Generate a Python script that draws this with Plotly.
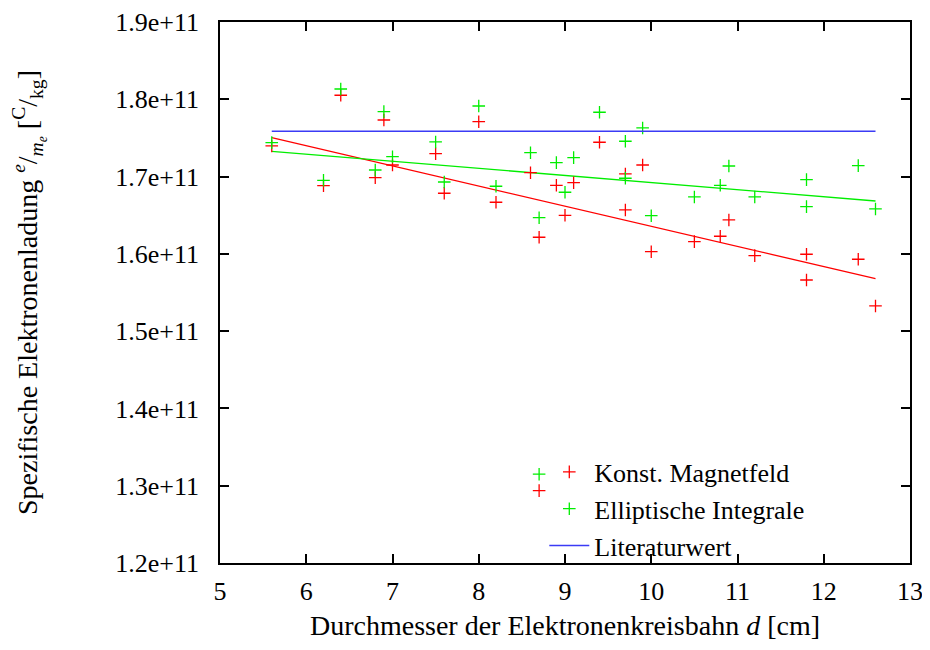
import plotly.graph_objects as go

# Durchmesser d [cm]
d = [5.6, 6.2, 6.4, 6.8, 6.9, 7.0, 7.5, 7.6, 8.0, 8.2, 8.6, 8.7, 8.7, 8.9, 9.0, 9.1,
     9.4, 9.7, 9.7, 9.9, 10.0, 10.5, 10.8, 10.9, 11.2, 11.8, 11.8, 12.4, 12.6]

# Konst. Magnetfeld (red), e/m in 1e11 C/kg
konst = [1.7396, 1.6882, 1.8052, 1.6986, 1.7732, 1.7150, 1.7296, 1.6784, 1.7710, 1.6668,
         1.7050, 1.6215, 1.2937, 1.6887, 1.6499, 1.6921, 1.7444, 1.7034, 1.6568, 1.7150,
         1.6028, 1.6158, 1.6228, 1.6439, 1.5977, 1.5995, 1.5662, 1.5930, 1.5326]

# Elliptische Integrale (green)
ellip = [1.7439, 1.6952, 1.8133, 1.7085, 1.7840, 1.7257, 1.7448, 1.6930, 1.7913, 1.6875,
         1.7309, 1.6468, 1.3149, 1.7180, 1.6797, 1.7245, 1.7832, 1.7457, 1.6978, 1.7629,
         1.6494, 1.6736, 1.6887, 1.7137, 1.6736, 1.6960, 1.6611, 1.7141, 1.6581]

# Fit lines (endpoints) and literature value
fit_x = [5.6, 12.6]
fit_konst = [1.7503, 1.5679]
fit_ellip = [1.7327, 1.6684]
lit_x = [5.6, 12.6]
lit_val = [1.7588, 1.7588]

x_ticks = [5, 6, 7, 8, 9, 10, 11, 12, 13]
y_ticks = [1.2, 1.3, 1.4, 1.5, 1.6, 1.7, 1.8, 1.9]
y_tick_labels = ["1.2e+11", "1.3e+11", "1.4e+11", "1.5e+11", "1.6e+11", "1.7e+11", "1.8e+11", "1.9e+11"]

FONT = "Liberation Serif"
FS = 26
FT = 28

fig = go.Figure()
fig.add_trace(go.Scatter(x=fit_x, y=fit_konst, mode="lines", line=dict(color="#ff0000", width=1.3),
                         showlegend=False, hoverinfo="skip"))
fig.add_trace(go.Scatter(x=fit_x, y=fit_ellip, mode="lines", line=dict(color="#00ee00", width=1.3),
                         showlegend=False, hoverinfo="skip"))
fig.add_trace(go.Scatter(x=d, y=konst, mode="markers", name="Konst. Magnetfeld",
                         marker=dict(symbol="cross-thin-open", size=9, color="#ff0000",
                                     line=dict(color="#ff0000", width=1.3))))
fig.add_trace(go.Scatter(x=d, y=ellip, mode="markers", name="Elliptische Integrale",
                         marker=dict(symbol="cross-thin-open", size=9, color="#00ee00",
                                     line=dict(color="#00ee00", width=1.3))))
fig.add_trace(go.Scatter(x=lit_x, y=lit_val, mode="lines", name="Literaturwert",
                         line=dict(color="#3b3bf5", width=1.5)))

axis_common = dict(showline=True, linecolor="black", linewidth=1.6, mirror="allticks",
                   ticks="inside", ticklen=9, tickwidth=1.6, tickcolor="black",
                   showgrid=False, zeroline=False, automargin=False,
                   tickfont=dict(family=FONT, size=FS, color="black"))

fig.update_layout(
    width=922, height=642,
    margin=dict(l=212, r=20, t=14, b=87),
    paper_bgcolor="white", plot_bgcolor="white",
    font=dict(family=FONT, size=FS, color="black"),
    xaxis=dict(range=[5, 13], tickvals=x_ticks, ticktext=[str(v) for v in x_ticks],
               ticklabelstandoff=4,
               title=dict(text="Durchmesser der Elektronenkreisbahn <i>d</i> [cm]",
                          font=dict(family=FONT, size=FT), standoff=10),
               **axis_common),
    yaxis=dict(range=[1.2, 1.9], tickvals=y_ticks, ticktext=y_tick_labels,
               ticklabelstandoff=14,
               title=dict(text="Spezifische Elektronenladung <sup><i>e</i></sup>/<sub><i>m<sub>e</sub></i></sub> [<sup>C</sup>/<sub>kg</sub>]",
                          font=dict(family=FONT, size=FT), standoff=74),
               **axis_common),
    legend=dict(x=0.47, y=-0.012, xanchor="left", yanchor="bottom",
                bgcolor="rgba(0,0,0,0)", borderwidth=0,
                font=dict(family=FONT, size=FS), tracegroupgap=0, itemwidth=40),
)

fig.write_html("out.html")
